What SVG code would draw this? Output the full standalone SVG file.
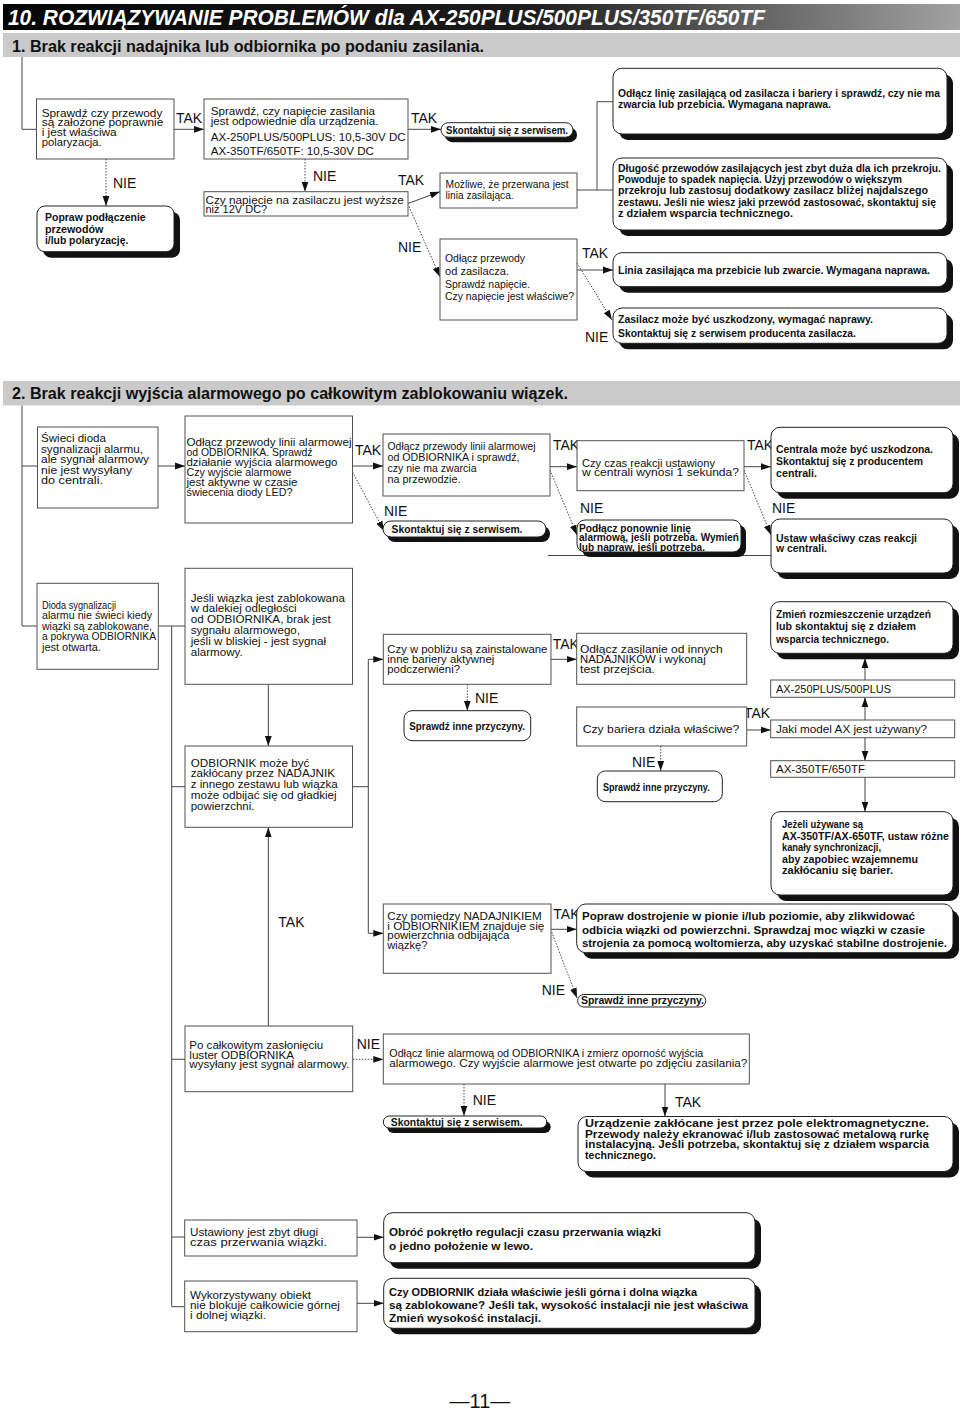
<svg xmlns="http://www.w3.org/2000/svg" width="960" height="1411" viewBox="0 0 960 1411">
<defs>
<linearGradient id="tg" x1="0" y1="0" x2="1" y2="0">
<stop offset="0" stop-color="#050505"/><stop offset="0.55" stop-color="#1c1c1c"/><stop offset="1" stop-color="#a2a2a2"/>
</linearGradient>
<marker id="ah" markerWidth="10" markerHeight="8" refX="10" refY="4" orient="auto" markerUnits="userSpaceOnUse"><path d="M0,0.6 L10,4 L0,7.4 z" fill="#111"/></marker>
<style>
.bx{fill:#fff;stroke:#505050;stroke-width:1}
.rb{fill:#fff;stroke:#222;stroke-width:1}
.sh{fill:#111}
.ln{fill:none;stroke:#454545;stroke-width:1}
.dt{fill:none;stroke:#454545;stroke-width:1;stroke-dasharray:1.5 1.5}
.t{font-family:"Liberation Sans",Arial,sans-serif;font-size:11.5px;fill:#111}
.ts{font-family:"Liberation Sans",Arial,sans-serif;font-size:10.5px;fill:#111}
.tb{font-family:"Liberation Sans",Arial,sans-serif;font-size:11.5px;font-weight:bold;fill:#111}
.lb{font-family:"Liberation Sans",Arial,sans-serif;font-size:14px;fill:#111}
.hd{font-family:"Liberation Sans",Arial,sans-serif;font-size:16px;font-weight:bold;fill:#111}
</style>
</defs>
<rect x="0" y="0" width="960" height="1411" fill="#fff"/>

<g id="title">
<rect x="3" y="4" width="957" height="26" fill="url(#tg)"/>
<text x="8" y="24.5" font-family="Liberation Sans,Arial,sans-serif" font-size="22" font-weight="bold" font-style="italic" fill="#fff" textLength="757" lengthAdjust="spacingAndGlyphs">10. ROZWIĄZYWANIE PROBLEMÓW dla AX-250PLUS/500PLUS/350TF/650TF</text>
</g>
<g id="section1-header">
<rect x="3" y="33" width="957" height="24" fill="#cacaca"/>
<text class="hd" x="12" y="51.5" textLength="472" lengthAdjust="spacingAndGlyphs">1. Brak reakcji nadajnika lub odbiornika po podaniu zasilania.</text>
</g>
<g id="section2-header">
<rect x="3" y="381" width="957" height="24.5" fill="#cacaca"/>
<text class="hd" x="12" y="398.5" textLength="556" lengthAdjust="spacingAndGlyphs">2. Brak reakcji wyjścia alarmowego po całkowitym zablokowaniu wiązek.</text>
</g>

<g id="connectors">
<path class="ln" d="M22,57 V129.3 H36.5"/>
<path class="ln" d="M174,129.3 H204" marker-end="url(#ah)"/>
<path class="ln" d="M408,129.3 H441" marker-end="url(#ah)"/>
<path class="dt" d="M106,159 V206" marker-end="url(#ah)"/>
<path class="dt" d="M305,159 V191.7" marker-end="url(#ah)"/>
<path class="ln" d="M408,203.5 L440,191.7" marker-end="url(#ah)"/>
<path class="dt" d="M409,206.5 L440,277" marker-end="url(#ah)"/>
<path class="ln" d="M577,190 H613 M597,101.7 V190 M597,101.7 H613"/>
<path class="ln" d="M577,270 H613" marker-end="url(#ah)"/>
<path class="dt" d="M577,263 L612,320" marker-end="url(#ah)"/>
<path class="ln" d="M22,405.5 V626 H37 M22,466 H37.5"/>
<path class="ln" d="M158,466 H185" marker-end="url(#ah)"/>
<path class="ln" d="M352.5,466 H383" marker-end="url(#ah)"/>
<path class="dt" d="M352.5,472 L384,531" marker-end="url(#ah)"/>
<path class="ln" d="M550,466.7 H577" marker-end="url(#ah)"/>
<path class="dt" d="M550,470 L577,535" marker-end="url(#ah)"/>
<path class="ln" d="M744,466.7 H771" marker-end="url(#ah)"/>
<path class="dt" d="M744,470 L771,535" marker-end="url(#ah)"/>
<path class="ln" d="M548,555.5 H771"/>
<path class="ln" d="M158.3,626 H185 M171.7,626 V1306.7 M171.7,786.7 H185 M171.7,1059.3 H185 M171.7,1237 H184.7 M171.7,1306.7 H184.7"/>
<path class="ln" d="M268.3,684.3 V746" marker-end="url(#ah)"/>
<path class="ln" d="M352.5,786.7 H368.3 M368.3,659.3 V933.3"/>
<path class="ln" d="M368.3,659.3 H383.3" marker-end="url(#ah)"/>
<path class="ln" d="M368.3,933.3 H383.3" marker-end="url(#ah)"/>
<path class="ln" d="M551,659.3 H576.7" marker-end="url(#ah)"/>
<path class="dt" d="M467.3,684.3 V710.7" marker-end="url(#ah)"/>
<path class="ln" d="M746.7,730 H770.7" marker-end="url(#ah)"/>
<path class="dt" d="M660.7,746 V771" marker-end="url(#ah)"/>
<path class="ln" d="M865,680 V658" marker-end="url(#ah)"/>
<path class="ln" d="M865,720 V697.3" marker-end="url(#ah)"/>
<path class="ln" d="M865,737.7 V760.7" marker-end="url(#ah)"/>
<path class="ln" d="M865,777.3 V811.7" marker-end="url(#ah)"/>
<path class="ln" d="M268.3,1026 V827.3" marker-end="url(#ah)"/>
<path class="ln" d="M551,929.3 H576.7" marker-end="url(#ah)"/>
<path class="dt" d="M551.7,932 L577,998" marker-end="url(#ah)"/>
<path class="dt" d="M352.7,1059.3 H383.3" marker-end="url(#ah)"/>
<path class="dt" d="M464,1084 V1116" marker-end="url(#ah)"/>
<path class="ln" d="M665,1084 V1116.5" marker-end="url(#ah)"/>
<path class="ln" d="M357,1237.3 H383.7" marker-end="url(#ah)"/>
<path class="ln" d="M357,1303.3 H383.7" marker-end="url(#ah)"/>
</g>

<g id="labels">
<text class="lb" x="176" y="123">TAK</text>
<text class="lb" x="411" y="123">TAK</text>
<text class="lb" x="113" y="188.3">NIE</text>
<text class="lb" x="313" y="180.7">NIE</text>
<text class="lb" x="398" y="185">TAK</text>
<text class="lb" x="398" y="252">NIE</text>
<text class="lb" x="582" y="258">TAK</text>
<text class="lb" x="585" y="341.7">NIE</text>
<text class="lb" x="355" y="455">TAK</text>
<text class="lb" x="553" y="450">TAK</text>
<text class="lb" x="747" y="450">TAK</text>
<text class="lb" x="384" y="516">NIE</text>
<text class="lb" x="580" y="513">NIE</text>
<text class="lb" x="772" y="513.3">NIE</text>
<text class="lb" x="552.7" y="649.3">TAK</text>
<text class="lb" x="475" y="702.7">NIE</text>
<text class="lb" x="744" y="718.3">TAK</text>
<text class="lb" x="632" y="767">NIE</text>
<text class="lb" x="278.3" y="927.3">TAK</text>
<text class="lb" x="553.3" y="919.3">TAK</text>
<text class="lb" x="541.7" y="995">NIE</text>
<text class="lb" x="356.7" y="1049.3">NIE</text>
<text class="lb" x="472.7" y="1105">NIE</text>
<text class="lb" x="675" y="1106.7">TAK</text>
</g>

<g id="n1-check-wires">
<rect class="bx" x="36.5" y="99" width="137.5" height="60"/>
<text class="t" x="41.7" y="116.5" font-size="11" textLength="120.6" lengthAdjust="spacingAndGlyphs">Sprawdź czy przewody</text>
<text class="t" x="41.7" y="126.4" font-size="11" textLength="121.7" lengthAdjust="spacingAndGlyphs">są założone poprawnie</text>
<text class="t" x="41.7" y="136.3" font-size="11" textLength="75" lengthAdjust="spacingAndGlyphs">i jest właściwa</text>
<text class="t" x="41.7" y="146.2" font-size="11" textLength="60" lengthAdjust="spacingAndGlyphs">polaryzacja.</text>
</g>
<g id="n1-fix-wires">
<rect class="sh" x="43" y="212" width="137" height="45.7" rx="8"/>
<rect class="rb" x="37" y="206" width="137" height="45.7" rx="8"/>
<text class="tb" x="45" y="221" textLength="100.7" lengthAdjust="spacingAndGlyphs">Popraw podłączenie</text>
<text class="tb" x="45" y="232.7" textLength="58.3" lengthAdjust="spacingAndGlyphs">przewodów</text>
<text class="tb" x="45" y="244.3" textLength="83.3" lengthAdjust="spacingAndGlyphs">i/lub polaryzację.</text>
</g>
<g id="n1-check-voltage">
<rect class="bx" x="204" y="99" width="204" height="60"/>
<text class="t" x="210.7" y="114.5" textLength="164.3" lengthAdjust="spacingAndGlyphs">Sprawdź, czy napięcie zasilania</text>
<text class="t" x="210.7" y="124.5" textLength="167.7" lengthAdjust="spacingAndGlyphs">jest odpowiednie dla urządzenia.</text>
<text class="t" x="210.7" y="140.5" font-size="12.5" textLength="195" lengthAdjust="spacingAndGlyphs">AX-250PLUS/500PLUS: 10,5-30V DC</text>
<text class="t" x="210.7" y="154.5" font-size="12.5" textLength="163.3" lengthAdjust="spacingAndGlyphs">AX-350TF/650TF: 10,5-30V DC</text>
</g>
<g id="n1-service">
<rect class="sh" x="445" y="127.7" width="132" height="14.5" rx="7.2"/>
<rect class="rb" x="441" y="122.7" width="132" height="14.5" rx="7.2"/>
<text class="tb" x="446" y="133.8" font-size="11" textLength="122" lengthAdjust="spacingAndGlyphs">Skontaktuj się z serwisem.</text>
</g>
<g id="n1-psu-voltage">
<rect class="bx" x="204" y="191.7" width="204" height="24.3"/>
<text class="t" x="205.5" y="203.5" textLength="198.3" lengthAdjust="spacingAndGlyphs">Czy napięcie na zasilaczu jest wyższe</text>
<text class="t" x="205.5" y="213" textLength="61.7" lengthAdjust="spacingAndGlyphs">niż 12V DC?</text>
</g>
<g id="n1-line-broken">
<rect class="bx" x="440" y="173" width="137" height="35"/>
<text class="t" x="445.6" y="188.3" font-size="11" textLength="123" lengthAdjust="spacingAndGlyphs">Możliwe, że przerwana jest</text>
<text class="t" x="445.6" y="199.3" font-size="11" textLength="68" lengthAdjust="spacingAndGlyphs">linia zasilająca.</text>
</g>
<g id="n1-disconnect">
<rect class="bx" x="440" y="239" width="137" height="81"/>
<text class="t" x="445" y="262" font-size="11" textLength="80" lengthAdjust="spacingAndGlyphs">Odłącz przewody</text>
<text class="t" x="445" y="274.5" font-size="11" textLength="64" lengthAdjust="spacingAndGlyphs">od zasilacza.</text>
<text class="t" x="445" y="288" font-size="11" textLength="85" lengthAdjust="spacingAndGlyphs">Sprawdź napięcie.</text>
<text class="t" x="445" y="300" font-size="11" textLength="129" lengthAdjust="spacingAndGlyphs">Czy napięcie jest właściwe?</text>
</g>
<g id="n1-check-line">
<rect class="sh" x="619" y="74.3" width="334" height="65.7" rx="9"/>
<rect class="rb" x="613" y="68.3" width="334" height="65.7" rx="9"/>
<text class="tb" x="618" y="97.3" font-size="10.3" textLength="322" lengthAdjust="spacingAndGlyphs">Odłącz linię zasilającą od zasilacza i bariery i sprawdź, czy nie ma</text>
<text class="tb" x="618" y="108.3" font-size="11" textLength="213" lengthAdjust="spacingAndGlyphs">zwarcia lub przebicia. Wymagana naprawa.</text>
</g>
<g id="n1-wire-length">
<rect class="sh" x="619" y="164" width="334" height="72" rx="9"/>
<rect class="rb" x="613" y="158" width="334" height="72" rx="9"/>
<text class="tb" x="618" y="172.3" font-size="10.3" textLength="323" lengthAdjust="spacingAndGlyphs">Długość przewodów zasilających jest zbyt duża dla ich przekroju.</text>
<text class="tb" x="618" y="183.3" font-size="10.6" textLength="284" lengthAdjust="spacingAndGlyphs">Powoduje to spadek napięcia. Użyj przewodów o większym</text>
<text class="tb" x="618" y="194.3" font-size="10.3" textLength="310" lengthAdjust="spacingAndGlyphs">przekroju lub zastosuj dodatkowy zasilacz bliżej najdalszego</text>
<text class="tb" x="618" y="205.6" font-size="10.3" textLength="318" lengthAdjust="spacingAndGlyphs">zestawu. Jeśli nie wiesz jaki przewód zastosować, skontaktuj się</text>
<text class="tb" x="618" y="217" font-size="11" textLength="175" lengthAdjust="spacingAndGlyphs">z działem wsparcia technicznego.</text>
</g>
<g id="n1-line-short">
<rect class="sh" x="619" y="258.7" width="334" height="34" rx="9"/>
<rect class="rb" x="613" y="252.7" width="334" height="34" rx="9"/>
<text class="tb" x="618" y="274" font-size="10.6" textLength="312" lengthAdjust="spacingAndGlyphs">Linia zasilająca ma przebicie lub zwarcie. Wymagana naprawa.</text>
</g>
<g id="n1-psu-damaged">
<rect class="sh" x="619" y="314" width="334" height="35.3" rx="9"/>
<rect class="rb" x="613" y="308" width="334" height="35.3" rx="9"/>
<text class="tb" x="618" y="323.3" textLength="255" lengthAdjust="spacingAndGlyphs">Zasilacz może być uszkodzony, wymagać naprawy.</text>
<text class="tb" x="618" y="337.3" textLength="238" lengthAdjust="spacingAndGlyphs">Skontaktuj się z serwisem producenta zasilacza.</text>
</g>

<g id="n2-led-on">
<rect class="bx" x="37.5" y="427" width="120.5" height="81"/>
<text class="t" x="41" y="442" textLength="65" lengthAdjust="spacingAndGlyphs">Świeci dioda</text>
<text class="t" x="41" y="452.5" textLength="102" lengthAdjust="spacingAndGlyphs">sygnalizacji alarmu,</text>
<text class="t" x="41" y="463" textLength="108" lengthAdjust="spacingAndGlyphs">ale sygnał alarmowy</text>
<text class="t" x="41" y="473.5" textLength="91" lengthAdjust="spacingAndGlyphs">nie jest wysyłany</text>
<text class="t" x="41" y="484" textLength="62" lengthAdjust="spacingAndGlyphs">do centrali.</text>
</g>
<g id="n2-check-output">
<rect class="bx" x="185" y="416" width="167.5" height="107"/>
<text class="t" x="186.5" y="446" textLength="165" lengthAdjust="spacingAndGlyphs">Odłącz przewody linii alarmowej</text>
<text class="t" x="186.5" y="456" textLength="126" lengthAdjust="spacingAndGlyphs">od ODBIORNIKA. Sprawdź</text>
<text class="t" x="186.5" y="466" textLength="151" lengthAdjust="spacingAndGlyphs">działanie wyjścia alarmowego</text>
<text class="t" x="186.5" y="476" textLength="105" lengthAdjust="spacingAndGlyphs">Czy wyjście alarmowe</text>
<text class="t" x="186.5" y="486" textLength="111" lengthAdjust="spacingAndGlyphs">jest aktywne w czasie</text>
<text class="t" x="186.5" y="496" textLength="106" lengthAdjust="spacingAndGlyphs">świecenia diody LED?</text>
</g>
<g id="n2-check-short">
<rect class="bx" x="383" y="434" width="167" height="62"/>
<text class="t" x="387.5" y="450" textLength="148" lengthAdjust="spacingAndGlyphs">Odłącz przewody linii alarmowej</text>
<text class="t" x="387.5" y="461" textLength="132" lengthAdjust="spacingAndGlyphs">od ODBIORNIKA i sprawdź,</text>
<text class="t" x="387.5" y="472" textLength="89" lengthAdjust="spacingAndGlyphs">czy nie ma zwarcia</text>
<text class="t" x="387.5" y="483" textLength="73" lengthAdjust="spacingAndGlyphs">na przewodzie.</text>
</g>
<g id="n2-service">
<rect class="sh" x="387" y="526" width="163" height="16" rx="8"/>
<rect class="rb" x="383" y="521" width="163" height="16" rx="8"/>
<text class="tb" x="391.5" y="533" font-size="11" textLength="131" lengthAdjust="spacingAndGlyphs">Skontaktuj się z serwisem.</text>
</g>
<g id="n2-response-time">
<rect class="bx" x="577" y="440.7" width="167" height="50"/>
<text class="t" x="582" y="466.7" textLength="133" lengthAdjust="spacingAndGlyphs">Czy czas reakcji ustawiony</text>
<text class="t" x="582" y="476" textLength="157" lengthAdjust="spacingAndGlyphs">w centrali wynosi 1 sekunda?</text>
</g>
<g id="n2-panel-damaged">
<rect class="sh" x="777" y="433.3" width="182" height="65.4" rx="9"/>
<rect class="rb" x="771" y="427.3" width="182" height="65.4" rx="9"/>
<text class="tb" x="776" y="453.3" textLength="157" lengthAdjust="spacingAndGlyphs">Centrala może być uszkodzona.</text>
<text class="tb" x="776" y="464.8" textLength="147" lengthAdjust="spacingAndGlyphs">Skontaktuj się z producentem</text>
<text class="tb" x="776" y="476.7" textLength="41" lengthAdjust="spacingAndGlyphs">centrali.</text>
</g>
<g id="n2-reconnect">
<rect class="sh" x="582" y="525" width="164" height="32" rx="8"/>
<rect class="rb" x="577" y="520" width="164" height="32" rx="8"/>
<text class="tb" x="579" y="531.5" textLength="112" lengthAdjust="spacingAndGlyphs">Podłącz ponownie linię</text>
<text class="tb" x="579" y="541.3" textLength="160" lengthAdjust="spacingAndGlyphs">alarmową, jeśli potrzeba. Wymień</text>
<text class="tb" x="579" y="550.5" textLength="126" lengthAdjust="spacingAndGlyphs">lub napraw, jeśli potrzeba.</text>
</g>
<g id="n2-set-time">
<rect class="sh" x="777" y="525" width="182" height="54" rx="9"/>
<rect class="rb" x="771" y="519" width="182" height="54" rx="9"/>
<text class="tb" x="776" y="541.7" textLength="141" lengthAdjust="spacingAndGlyphs">Ustaw właściwy czas reakcji</text>
<text class="tb" x="776" y="552.3" textLength="51" lengthAdjust="spacingAndGlyphs">w centrali.</text>
</g>

<g id="n2-led-off">
<rect class="bx" x="37" y="583.3" width="121.3" height="86"/>
<text class="ts" x="42" y="608.5" textLength="74" lengthAdjust="spacingAndGlyphs">Dioda sygnalizacji</text>
<text class="ts" x="42" y="619" textLength="110" lengthAdjust="spacingAndGlyphs">alarmu nie świeci kiedy</text>
<text class="ts" x="42" y="629.5" textLength="110" lengthAdjust="spacingAndGlyphs">wiązki są zablokowane,</text>
<text class="ts" x="42" y="640" textLength="114" lengthAdjust="spacingAndGlyphs">a pokrywa ODBIORNIKA</text>
<text class="ts" x="42" y="650.5" textLength="59" lengthAdjust="spacingAndGlyphs">jest otwarta.</text>
</g>
<g id="n2-far-blocked">
<rect class="bx" x="185" y="568.3" width="167.5" height="116"/>
<text class="t" x="190.7" y="601.7" textLength="154.3" lengthAdjust="spacingAndGlyphs">Jeśli wiązka jest zablokowana</text>
<text class="t" x="190.7" y="612.3" textLength="106" lengthAdjust="spacingAndGlyphs">w dalekiej odległości</text>
<text class="t" x="190.7" y="623.3" textLength="140" lengthAdjust="spacingAndGlyphs">od ODBIORNIKA, brak jest</text>
<text class="t" x="190.7" y="634" textLength="109.3" lengthAdjust="spacingAndGlyphs">sygnału alarmowego,</text>
<text class="t" x="190.7" y="645" textLength="135.3" lengthAdjust="spacingAndGlyphs">jeśli w bliskiej - jest sygnał</text>
<text class="t" x="190.7" y="655.7" textLength="52" lengthAdjust="spacingAndGlyphs">alarmowy.</text>
</g>
<g id="n2-interference">
<rect class="bx" x="185" y="746" width="167.5" height="81.3"/>
<text class="t" x="190.7" y="766.7" textLength="118.7" lengthAdjust="spacingAndGlyphs">ODBIORNIK może być</text>
<text class="t" x="190.7" y="777.3" textLength="144.3" lengthAdjust="spacingAndGlyphs">zakłócany przez NADAJNIK</text>
<text class="t" x="190.7" y="788.3" textLength="147" lengthAdjust="spacingAndGlyphs">z innego zestawu lub wiązka</text>
<text class="t" x="190.7" y="799.3" textLength="146" lengthAdjust="spacingAndGlyphs">może odbijać się od gładkiej</text>
<text class="t" x="190.7" y="810" textLength="63.7" lengthAdjust="spacingAndGlyphs">powierzchni.</text>
</g>
<g id="n2-other-barriers">
<rect class="bx" x="383.3" y="634.3" width="167.7" height="50"/>
<text class="t" x="387.3" y="652.7" textLength="160" lengthAdjust="spacingAndGlyphs">Czy w pobliżu są zainstalowane</text>
<text class="t" x="387.3" y="662.7" textLength="107" lengthAdjust="spacingAndGlyphs">inne bariery aktywnej</text>
<text class="t" x="387.3" y="673.3" textLength="72.7" lengthAdjust="spacingAndGlyphs">podczerwieni?</text>
</g>
<g id="n2-power-off-tx">
<rect class="bx" x="576.7" y="633.3" width="170" height="51"/>
<text class="t" x="580" y="653" textLength="142.7" lengthAdjust="spacingAndGlyphs">Odłącz zasilanie od innych</text>
<text class="t" x="580" y="663" textLength="125.7" lengthAdjust="spacingAndGlyphs">NADAJNIKÓW i wykonaj</text>
<text class="t" x="580" y="673" textLength="75" lengthAdjust="spacingAndGlyphs">test przejścia.</text>
</g>
<g id="n2-other-causes-1">
<rect class="rb" x="404" y="710.7" width="126.7" height="30" rx="8" stroke="#555"/>
<text class="tb" x="409.3" y="729.5" textLength="115.7" lengthAdjust="spacingAndGlyphs">Sprawdź inne przyczyny.</text>
</g>
<g id="n2-barrier-ok">
<rect class="bx" x="576.7" y="707" width="170" height="39"/>
<text class="t" x="582.7" y="732.5" textLength="156.7" lengthAdjust="spacingAndGlyphs">Czy bariera działa właściwe?</text>
</g>
<g id="n2-other-causes-2">
<rect class="rb" x="597.3" y="771" width="125" height="30.7" rx="8" stroke="#555"/>
<text class="tb" x="603" y="790.7" textLength="106.7" lengthAdjust="spacingAndGlyphs">Sprawdź inne przyczyny.</text>
</g>
<g id="n2-relocate">
<rect class="sh" x="776.7" y="607.7" width="182.3" height="51.6" rx="9"/>
<rect class="rb" x="770.7" y="601.7" width="182.3" height="51.6" rx="9"/>
<text class="tb" x="776" y="618.3" font-size="12" textLength="155" lengthAdjust="spacingAndGlyphs">Zmień rozmieszczenie urządzeń</text>
<text class="tb" x="776" y="630.3" font-size="12" textLength="140" lengthAdjust="spacingAndGlyphs">lub skontaktuj się z działem</text>
<text class="tb" x="776" y="642.5" font-size="12" textLength="113" lengthAdjust="spacingAndGlyphs">wsparcia technicznego.</text>
</g>
<g id="n2-ax250">
<rect class="bx" x="770.7" y="680" width="184" height="17.3"/>
<text class="t" x="776" y="692.6" font-size="12" textLength="115" lengthAdjust="spacingAndGlyphs">AX-250PLUS/500PLUS</text>
</g>
<g id="n2-which-model">
<rect class="bx" x="770.7" y="720" width="184" height="17.7"/>
<text class="t" x="776" y="732.7" font-size="12" textLength="151" lengthAdjust="spacingAndGlyphs">Jaki model AX jest używany?</text>
</g>
<g id="n2-ax350">
<rect class="bx" x="770.7" y="760.7" width="184" height="16.6"/>
<text class="t" x="776" y="772.8" font-size="12" textLength="89" lengthAdjust="spacingAndGlyphs">AX-350TF/650TF</text>
</g>
<g id="n2-sync-channels">
<rect class="sh" x="777" y="817.7" width="182" height="83.3" rx="9"/>
<rect class="rb" x="771" y="811.7" width="182" height="83.3" rx="9"/>
<text class="tb" x="782" y="828" textLength="81" lengthAdjust="spacingAndGlyphs">Jeżeli używane są</text>
<text class="tb" x="782" y="839.5" textLength="167" lengthAdjust="spacingAndGlyphs">AX-350TF/AX-650TF, ustaw różne</text>
<text class="tb" x="782" y="851" textLength="99" lengthAdjust="spacingAndGlyphs">kanały synchronizacji,</text>
<text class="tb" x="782" y="862.5" textLength="136" lengthAdjust="spacingAndGlyphs">aby zapobiec wzajemnemu</text>
<text class="tb" x="782" y="874" textLength="111" lengthAdjust="spacingAndGlyphs">zakłócaniu się barier.</text>
</g>
<g id="n2-reflection">
<rect class="bx" x="383.3" y="904" width="167.7" height="69.3"/>
<text class="t" x="387.3" y="920" font-size="11" textLength="154.3" lengthAdjust="spacingAndGlyphs">Czy pomiędzy NADAJNIKIEM</text>
<text class="t" x="387.3" y="929.5" font-size="11" textLength="157" lengthAdjust="spacingAndGlyphs">i ODBIORNIKIEM znajduje się</text>
<text class="t" x="387.3" y="939" font-size="11" textLength="122" lengthAdjust="spacingAndGlyphs">powierzchnia odbijająca</text>
<text class="t" x="387.3" y="948.5" font-size="11" textLength="40" lengthAdjust="spacingAndGlyphs">wiązkę?</text>
</g>
<g id="n2-realign">
<rect class="sh" x="582.7" y="910" width="376.3" height="48.7" rx="9"/>
<rect class="rb" x="576.7" y="904" width="376.3" height="48.7" rx="9"/>
<text class="tb" x="582" y="920" font-size="12.5" textLength="333" lengthAdjust="spacingAndGlyphs">Popraw dostrojenie w pionie i/lub poziomie, aby zlikwidować</text>
<text class="tb" x="582" y="934" font-size="12.5" textLength="343" lengthAdjust="spacingAndGlyphs">odbicia wiązki od powierzchni. Sprawdzaj moc wiązki w czasie</text>
<text class="tb" x="582" y="947.3" font-size="12.5" textLength="365" lengthAdjust="spacingAndGlyphs">strojenia za pomocą woltomierza, aby uzyskać stabilne dostrojenie.</text>
</g>
<g id="n2-other-causes-3">
<rect class="rb" x="577.7" y="994.5" width="128" height="12.5" rx="6" stroke="#555"/>
<text class="tb" x="581" y="1004.3" font-size="10.5" textLength="123" lengthAdjust="spacingAndGlyphs">Sprawdź inne przyczyny.</text>
</g>
<g id="n2-full-cover">
<rect class="bx" x="185" y="1026" width="167.7" height="65.7"/>
<text class="t" x="189.3" y="1049" font-size="10.5" textLength="134" lengthAdjust="spacingAndGlyphs">Po całkowitym zasłonięciu</text>
<text class="t" x="189.3" y="1058.5" font-size="10.5" textLength="104.7" lengthAdjust="spacingAndGlyphs">luster ODBIORNIKA</text>
<text class="t" x="189.3" y="1068" font-size="10.5" textLength="160" lengthAdjust="spacingAndGlyphs">wysyłany jest sygnał alarmowy.</text>
</g>
<g id="n2-measure-output">
<rect class="bx" x="383.3" y="1034" width="366" height="50"/>
<text class="t" x="389.3" y="1056.5" font-size="11" textLength="314" lengthAdjust="spacingAndGlyphs">Odłącz linie alarmową od ODBIORNIKA i zmierz oporność wyjścia</text>
<text class="t" x="389.3" y="1066.5" font-size="11" textLength="358" lengthAdjust="spacingAndGlyphs">alarmowego. Czy wyjście alarmowe jest otwarte po zdjęciu zasilania?</text>
</g>
<g id="n2-service-2">
<rect class="sh" x="387.3" y="1121" width="163.4" height="12" rx="6"/>
<rect class="rb" x="383.3" y="1116" width="163.4" height="12" rx="6"/>
<text class="tb" x="390.7" y="1125.8" font-size="11" textLength="132" lengthAdjust="spacingAndGlyphs">Skontaktuj się z serwisem.</text>
</g>
<g id="n2-emi">
<rect class="sh" x="584" y="1122.5" width="375" height="55" rx="9"/>
<rect class="rb" x="578" y="1116.5" width="375" height="55" rx="9"/>
<text class="tb" x="585" y="1127" textLength="344" lengthAdjust="spacingAndGlyphs">Urządzenie zakłócane jest przez pole elektromagnetyczne.</text>
<text class="tb" x="585" y="1137.5" textLength="344" lengthAdjust="spacingAndGlyphs">Przewody należy ekranować i/lub zastosować metalową rurkę</text>
<text class="tb" x="585" y="1148" textLength="344" lengthAdjust="spacingAndGlyphs">instalacyjną. Jeśli potrzeba, skontaktuj się z działem wsparcia</text>
<text class="tb" x="585" y="1158.5" textLength="71" lengthAdjust="spacingAndGlyphs">technicznego.</text>
</g>
<g id="n2-long-time">
<rect class="bx" x="184.7" y="1220" width="172.3" height="36"/>
<text class="t" x="190" y="1235.5" font-size="11" textLength="128" lengthAdjust="spacingAndGlyphs">Ustawiony jest zbyt długi</text>
<text class="t" x="190" y="1246" font-size="11" textLength="137" lengthAdjust="spacingAndGlyphs">czas przerwania wiązki.</text>
</g>
<g id="n2-turn-knob">
<rect class="sh" x="389.7" y="1218.7" width="371.3" height="50" rx="9"/>
<rect class="rb" x="383.7" y="1212.7" width="371.3" height="50" rx="9"/>
<text class="tb" x="389" y="1236" font-size="12.5" textLength="272" lengthAdjust="spacingAndGlyphs">Obróć pokrętło regulacji czasu przerwania wiązki</text>
<text class="tb" x="389" y="1250" font-size="12.5" textLength="144" lengthAdjust="spacingAndGlyphs">o jedno położenie w lewo.</text>
</g>
<g id="n2-object">
<rect class="bx" x="184.7" y="1281" width="172.3" height="50.7"/>
<text class="t" x="190" y="1299" font-size="11" textLength="121" lengthAdjust="spacingAndGlyphs">Wykorzystywany obiekt</text>
<text class="t" x="190" y="1309" font-size="11" textLength="150" lengthAdjust="spacingAndGlyphs">nie blokuje całkowicie górnej</text>
<text class="t" x="190" y="1319" font-size="11" textLength="76" lengthAdjust="spacingAndGlyphs">i dolnej wiązki.</text>
</g>
<g id="n2-height">
<rect class="sh" x="389.7" y="1284.3" width="371.3" height="50" rx="9"/>
<rect class="rb" x="383.7" y="1278.3" width="371.3" height="50" rx="9"/>
<text class="tb" x="389" y="1296" font-size="12.5" textLength="308" lengthAdjust="spacingAndGlyphs">Czy ODBIORNIK działa właściwie jeśli górna i dolna wiązka</text>
<text class="tb" x="389" y="1309" font-size="12.5" textLength="359" lengthAdjust="spacingAndGlyphs">są zablokowane? Jeśli tak, wysokość instalacji nie jest właściwa</text>
<text class="tb" x="389" y="1322" font-size="12.5" textLength="152" lengthAdjust="spacingAndGlyphs">Zmień wysokość instalacji.</text>
</g>
<g id="page-number">
<text x="480" y="1408" text-anchor="middle" font-family="Liberation Sans,Arial,sans-serif" font-size="20" fill="#111">—11—</text>
</g>
</svg>
